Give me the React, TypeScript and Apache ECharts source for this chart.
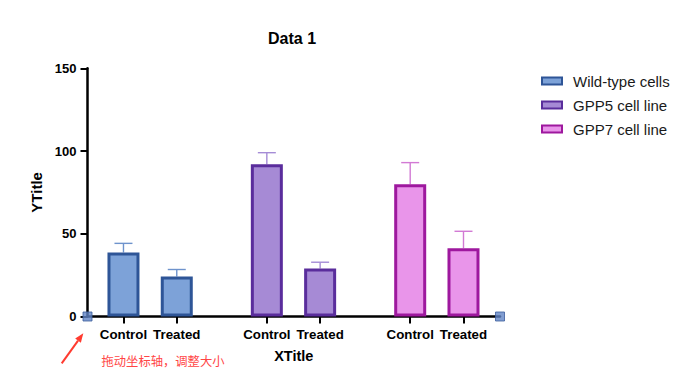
import React, { useEffect, useRef } from "react";
import * as echarts from "echarts";

// ---- data ----
const conditions = ["Control", "Treated"];
const groupNames = ["Wild-type cells", "GPP5 cell line", "GPP7 cell line"];
const wildTypeMeans = [38.7, 24.2];
const wildTypeErrors = [5.5, 4.2];
const gpp5Means = [92, 29];
const gpp5Errors = [7, 3.8];
const gpp7Means = [80, 41.3];
const gpp7Errors = [13, 10.2];
const yTicks = [0, 50, 100, 150];

// ---- styling / layout ----
const FONT = "'Liberation Sans', Arial, sans-serif";
const fills = ["#7DA2D8", "#A68AD5", "#E995EA"];
const borders = ["#2E5597", "#5A2D9C", "#9E189E"];
const errColors = ["#6E93CC", "#A58CD6", "#D27AD4"];
const GROUP_SPACING = 2.69;
const FIRST_OFFSET = 0.675;
const X_MAX = 7.74;

const allMeans = [wildTypeMeans, gpp5Means, gpp7Means];
const allErrors = [wildTypeErrors, gpp5Errors, gpp7Errors];

const positions: number[] = [];
const posLabels: string[] = [];
groupNames.forEach((_, g) => {
  conditions.forEach((c, ci) => {
    positions.push(FIRST_OFFSET + g * GROUP_SPACING + ci);
    posLabels.push(c);
  });
});

export default function App() {
  const ref = useRef<HTMLDivElement>(null);
  useEffect(() => {
    if (!ref.current) return;
    const chart = echarts.init(ref.current, undefined, { renderer: "svg" });

    const barSeries = groupNames.map((name, g) => ({
      name,
      type: "bar",
      data: conditions.map((_, ci) => [FIRST_OFFSET + g * GROUP_SPACING + ci, allMeans[g][ci]]),
      barWidth: 32,
      barGap: "-100%",
      z: 3,
      silent: true,
      itemStyle: { color: fills[g], borderColor: borders[g], borderWidth: 3 },
    }));

    const errSeries = groupNames.map((name, g) => ({
      name: name + " error",
      type: "custom",
      z: 2,
      silent: true,
      data: conditions.map((_, ci) => [
        FIRST_OFFSET + g * GROUP_SPACING + ci,
        allMeans[g][ci],
        allErrors[g][ci],
      ]),
      renderItem: (params: any, api: any) => {
        const x = api.value(0);
        const m = api.value(1);
        const e = api.value(2);
        const base = api.coord([x, m]);
        const top = api.coord([x, m + e]);
        const st = { stroke: errColors[g], lineWidth: 1.4 };
        return {
          type: "group",
          children: [
            { type: "line", shape: { x1: base[0], y1: base[1], x2: top[0], y2: top[1] }, style: st },
            { type: "line", shape: { x1: top[0] - 9, y1: top[1], x2: top[0] + 9, y2: top[1] }, style: st },
          ],
        };
      },
    }));

    const handleSeries = {
      name: "handles",
      type: "scatter",
      data: [
        [0, 0],
        [X_MAX, 0],
      ],
      symbol: "rect",
      symbolSize: 9,
      clip: false,
      silent: true,
      z: 10,
      itemStyle: { color: "#6185C5", borderColor: "#3B5C9C", borderWidth: 1 },
    };

    // arrow geometry
    const tail = [61.7, 363.3];
    const tip = [83.3, 333.3];
    const dx = tip[0] - tail[0];
    const dy = tip[1] - tail[1];
    const len = Math.sqrt(dx * dx + dy * dy);
    const ux = dx / len;
    const uy = dy / len;
    const hb = [tip[0] - ux * 9, tip[1] - uy * 9];
    const px = -uy;
    const py = ux;

    chart.setOption({
      animation: false,
      textStyle: { fontFamily: FONT },
      title: {
        text: "Data 1",
        left: 268,
        top: 30,
        padding: 0,
        textStyle: { fontSize: 16, fontWeight: "bold", color: "#000", fontFamily: FONT },
      },
      legend: {
        orient: "vertical",
        left: 541,
        top: 73.5,
        padding: 0,
        itemWidth: 20,
        itemHeight: 7,
        itemGap: 9,
        icon: "rect",
        data: groupNames.map((n, g) => ({
          name: n,
          itemStyle: { color: fills[g], borderColor: borders[g], borderWidth: 2 },
        })),
        textStyle: {
          fontSize: 15,
          color: "#1a1a1a",
          fontFamily: FONT,
          lineHeight: 15,
          padding: [0, 0, 0, 6],
        },
        selectedMode: false,
      },
      grid: {
        left: 87.5,
        right: 180,
        top: 68.3,
        bottom: 66.5,
        containLabel: false,
        outerBoundsMode: "none",
      },
      xAxis: {
        type: "value",
        min: 0,
        max: X_MAX,
        name: "XTitle",
        nameLocation: "middle",
        nameGap: 32,
        nameTextStyle: { fontSize: 14.5, fontWeight: "bold", color: "#000", fontFamily: FONT },
        splitLine: { show: false },
        axisLine: { show: true, lineStyle: { color: "#000", width: 2.5 } },
        axisTick: {
          show: true,
          length: 7,
          lineStyle: { color: "#000", width: 2 },
          customValues: positions,
        },
        axisLabel: {
          show: true,
          margin: 11,
          fontSize: 13.3,
          fontWeight: "bold",
          color: "#000",
          fontFamily: FONT,
          customValues: positions,
          formatter: (v: number) => {
            const i = positions.findIndex((p) => Math.abs(p - v) < 1e-6);
            return i >= 0 ? posLabels[i] : "";
          },
        },
      },
      yAxis: {
        type: "value",
        min: yTicks[0],
        max: yTicks[yTicks.length - 1],
        interval: 50,
        name: "YTitle",
        nameLocation: "middle",
        nameRotate: 90,
        nameGap: 44,
        nameTextStyle: { fontSize: 15, fontWeight: "bold", color: "#000", fontFamily: FONT },
        splitLine: { show: false },
        axisLine: { show: true, lineStyle: { color: "#000", width: 2.5 } },
        axisTick: { show: true, length: 7, lineStyle: { color: "#000", width: 2 } },
        axisLabel: { margin: 11, fontSize: 13, fontWeight: "bold", color: "#000", fontFamily: FONT },
      },
      series: [...errSeries, ...barSeries, handleSeries],
      graphic: [
        {
          type: "line",
          shape: { x1: tail[0], y1: tail[1], x2: hb[0], y2: hb[1] },
          style: { stroke: "#FF3B30", lineWidth: 2 },
          silent: true,
        },
        {
          type: "polygon",
          shape: {
            points: [
              [tip[0], tip[1]],
              [hb[0] + px * 3.5, hb[1] + py * 3.5],
              [hb[0] - px * 3.5, hb[1] - py * 3.5],
            ],
          },
          style: { fill: "#FF3B30" },
          silent: true,
        },
        {
          type: "text",
          left: 101.5,
          top: 355,
          silent: true,
          style: {
            text: "拖动坐标轴，调整大小",
            fontSize: 12.3,
            fill: "#FF4545",
            fontFamily: "'Noto Sans CJK SC', sans-serif",
          },
        },
      ],
    });
    return () => chart.dispose();
  }, []);
  return (
    <div
      ref={ref}
      style={{ position: "fixed", left: 0, top: 0, width: 680, height: 383, background: "#fff" }}
    />
  );
}
